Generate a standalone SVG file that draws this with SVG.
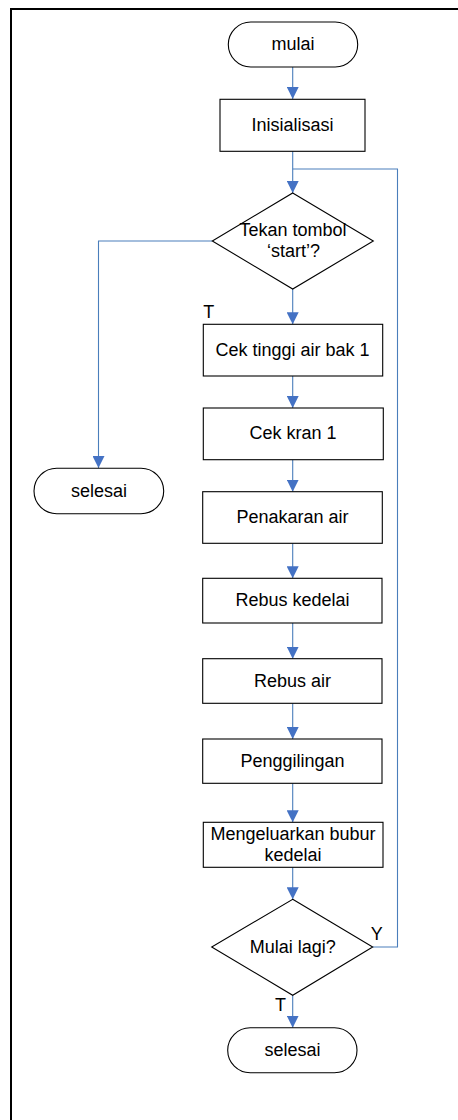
<svg xmlns="http://www.w3.org/2000/svg" width="458" height="1120" viewBox="0 0 458 1120">
<defs>
<style>
.shape{fill:#fff;stroke:#000;stroke-width:1.1}
.lbl{font-family:"Liberation Sans",Arial,sans-serif;font-size:18px;fill:#000;text-anchor:middle}
.lblL{font-family:"Liberation Sans",Arial,sans-serif;font-size:18px;fill:#000}
.conn{fill:none;stroke:#4A7EBB;stroke-width:1.1}
.frame{fill:none;stroke:#000;stroke-width:2}
</style>
<marker id="arr" markerUnits="userSpaceOnUse" markerWidth="12" markerHeight="12" refX="12" refY="6" orient="auto">
<path d="M0,0 L12,6 L0,12 z" fill="#4472C4"/>
</marker>
</defs>
<rect width="458" height="1120" fill="#fff"/>
<g id="frame">
<path class="frame" d="M11,1120 V9 H458"/>
</g>
<g id="connectors">
<path class="conn" d="M292.7,67 V99" marker-end="url(#arr)"/>
<path class="conn" d="M292.7,151 V193" marker-end="url(#arr)"/>
<path class="conn" d="M372.7,947 H397.5 V169 H292.7"/>
<path class="conn" d="M212.3,241 H98.5 V468" marker-end="url(#arr)"/>
<path class="conn" d="M292.7,289 V324.3" marker-end="url(#arr)"/>
<path class="conn" d="M292.7,376 V408" marker-end="url(#arr)"/>
<path class="conn" d="M292.7,459.7 V491.7" marker-end="url(#arr)"/>
<path class="conn" d="M292.7,543.3 V578.3" marker-end="url(#arr)"/>
<path class="conn" d="M292.7,623 V658.7" marker-end="url(#arr)"/>
<path class="conn" d="M292.7,703.3 V739" marker-end="url(#arr)"/>
<path class="conn" d="M292.7,783.3 V822.3" marker-end="url(#arr)"/>
<path class="conn" d="M292.7,867.3 V899.3" marker-end="url(#arr)"/>
<path class="conn" d="M292.7,995.3 V1027.7" marker-end="url(#arr)"/>
<text class="lblL" x="203.3" y="317.7">T</text>
<text class="lbl" x="319" y="362">Y</text>
<text class="lbl" x="376.7" y="940">Y</text>
<text class="lblL" x="275" y="1011">T</text>
</g>
<g id="mulai">
<rect class="shape" x="228.3" y="22" width="129.4" height="45" rx="22.5"/>
<text class="lbl" x="293" y="50">mulai</text>
</g>
<g id="inisialisasi">
<rect class="shape" x="220" y="99.3" width="145" height="52"/>
<text class="lbl" x="292.5" y="131">Inisialisasi</text>
</g>
<g id="tekan">
<path class="shape" d="M292.7,193 L373.3,241 L292.7,289 L212.3,241 z"/>
<text class="lbl" x="293" y="236">Tekan tombol</text>
<text class="lbl" x="293.5" y="256.7">‘start’?</text>
</g>
<g id="selesai1">
<rect class="shape" x="34" y="468.3" width="129.7" height="45.4" rx="22.7"/>
<text class="lbl" x="99" y="497.3">selesai</text>
</g>
<g id="cektinggi">
<rect class="shape" x="203.3" y="324.3" width="179.4" height="51.7"/>
<text class="lbl" x="292.5" y="355.7">Cek tinggi air bak 1</text>
</g>
<g id="cekkran">
<rect class="shape" x="203.3" y="408" width="180" height="51.7"/>
<text class="lbl" x="293" y="439.3">Cek kran 1</text>
</g>
<g id="penakaran">
<rect class="shape" x="202.7" y="491.7" width="179.6" height="51.6"/>
<text class="lbl" x="292.5" y="522.7">Penakaran air</text>
</g>
<g id="rebuskedelai">
<rect class="shape" x="202.7" y="578.3" width="179.3" height="44.7"/>
<text class="lbl" x="292.5" y="605.7">Rebus kedelai</text>
</g>
<g id="rebusair">
<rect class="shape" x="202.7" y="658.7" width="179.3" height="44.6"/>
<text class="lbl" x="292.5" y="686.7">Rebus air</text>
</g>
<g id="penggilingan">
<rect class="shape" x="202.7" y="739" width="179.3" height="44.3"/>
<text class="lbl" x="292.5" y="766.7">Penggilingan</text>
</g>
<g id="mengeluarkan">
<rect class="shape" x="203.3" y="822.3" width="179.7" height="45"/>
<text class="lbl" x="293" y="840">Mengeluarkan bubur</text>
<text class="lbl" x="293" y="861">kedelai</text>
</g>
<g id="mulailagi">
<path class="shape" d="M292.7,899.3 L372.7,947 L292.7,995.3 L211.7,947 z"/>
<text class="lbl" x="292.7" y="952.7">Mulai lagi?</text>
</g>
<g id="selesai2">
<rect class="shape" x="227.7" y="1027.7" width="129.3" height="45" rx="22.5"/>
<text class="lbl" x="292.5" y="1055.7">selesai</text>
</g>
</svg>
